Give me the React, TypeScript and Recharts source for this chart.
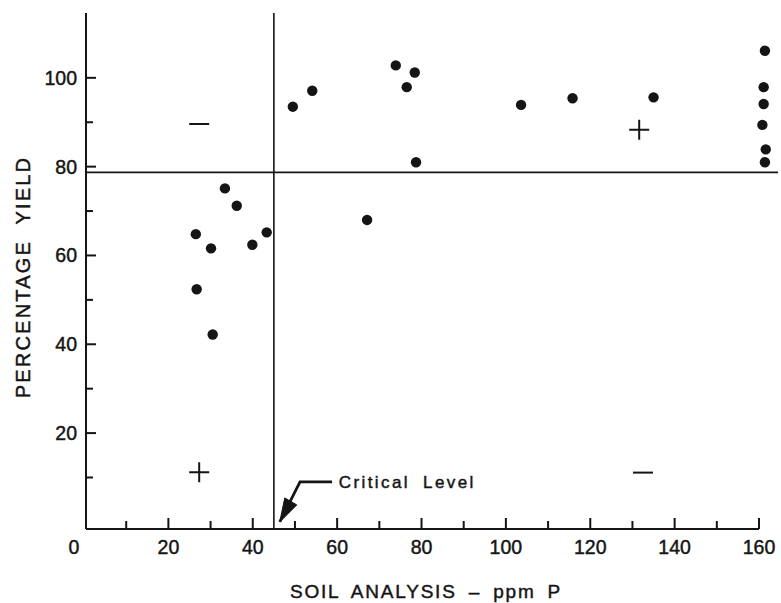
import React from 'react';
import { ScatterChart, Scatter, XAxis, YAxis, ReferenceLine, ReferenceDot, Label } from 'recharts';

const FONT = '"Liberation Sans", Arial, sans-serif';
const INK = '#151515';

// Observed points: soil analysis (ppm P) vs percentage yield
const soilP = [26.5, 26.7, 30.1, 30.5, 33.4, 36.2, 39.9, 43.3, 49.5, 54.1, 67.1, 73.9, 76.5, 78.4, 78.7, 103.6, 115.8, 135.0, 161.4, 161.1, 161.1, 160.8, 161.6, 161.4];
const yieldPct = [64.8, 52.4, 61.6, 42.2, 75.1, 71.2, 62.4, 65.2, 93.5, 97.1, 68.0, 102.8, 97.9, 101.2, 81.0, 93.9, 95.4, 95.6, 106.1, 97.9, 94.1, 89.4, 83.9, 81.0];

const xTicks = [0, 10, 20, 30, 40, 50, 60, 70, 80, 90, 100, 110, 120, 130, 140, 150, 160];
const yTicks = [10, 20, 30, 40, 50, 60, 70, 80, 90, 100];

const criticalP = 45;
const criticalYield = 78.7;

const plusX = [27.3, 131.6];
const plusY = [11.2, 88.3];
const minusX = [27.3, 132.5];
const minusY = [89.6, 11.1];

const arrowX = [58.8, 51.2, 46.4];
const arrowY = [9.0, 9.0, 0];
const criticalLabel = 'Critical Level';
const criticalLabelX = 60.4;
const criticalLabelY = 9.0;

const X_DOMAIN: [number, number] = [0.47, 164.5];
const Y_DOMAIN: [number, number] = [-1.6, 114.6];

const points = soilP.map((x, i) => ({ x, y: yieldPct[i] }));
const plusSigns = plusX.map((x, i) => ({ x, y: plusY[i] }));
const minusSigns = minusX.map((x, i) => ({ x, y: minusY[i] }));
const arrowPath = arrowX.map((x, i) => ({ x, y: arrowY[i] }));

const TEXT_STROKE = 0.45;

const XTick = (props: any) => {
  const { x, y, payload } = props;
  const v = payload.value;
  const major = v % 20 === 0;
  return (
    <g>
      {v !== 0 && <line x1={x} x2={x} y1={y} y2={y - (major ? 11 : 8)} stroke={INK} strokeWidth={2} />}
      {major && (
        <text x={v === 0 ? x - 10 : x} y={y + 25} textAnchor="middle" fontSize={19.5} fontFamily={FONT} fill={INK} stroke={INK} strokeWidth={TEXT_STROKE}>
          {v}
        </text>
      )}
    </g>
  );
};

const YTick = (props: any) => {
  const { x, y, payload } = props;
  const v = payload.value;
  const major = v % 20 === 0;
  return (
    <g>
      <line x1={x} x2={x + (major ? 10 : 7)} y1={y} y2={y} stroke={INK} strokeWidth={2} />
      {major && (
        <text x={x - 9} y={y} dy="0.36em" textAnchor="end" fontSize={19.5} fontFamily={FONT} fill={INK} stroke={INK} strokeWidth={TEXT_STROKE}>
          {v}
        </text>
      )}
    </g>
  );
};

const Dot = (p: any) => <circle cx={p.cx} cy={p.cy} r={5.2} fill={INK} />;
const Plus = (p: any) => (
  <path d={`M${p.cx - 10},${p.cy}h20M${p.cx},${p.cy - 10}v20`} stroke={INK} strokeWidth={2} fill="none" />
);
const Minus = (p: any) => <path d={`M${p.cx - 10},${p.cy}h20`} stroke={INK} strokeWidth={2} fill="none" />;
const Empty = () => <g />;

const ArrowHead = (p: any) => {
  const { cx, cy } = p;
  return <polygon points={`${cx},${cy} ${cx + 17},${cy - 17} ${cx + 5},${cy - 24}`} fill={INK} stroke={INK} strokeWidth={1} />;
};

const CriticalText = (p: any) => (
  <text x={p.cx} y={p.cy} dy="0.36em" fontSize={17} letterSpacing={2.4} wordSpacing={6} fontFamily={FONT} fill={INK} stroke={INK} strokeWidth={TEXT_STROKE}>
    {criticalLabel}
  </text>
);

export default function App() {
  return (
    <div style={{ position: 'absolute', left: 0, top: 0, background: '#fff' }}>
      <ScatterChart width={781} height={603} margin={{ top: 13, right: 3, bottom: 0, left: 0 }}>
        <XAxis
          type="number"
          dataKey="x"
          domain={X_DOMAIN}
          allowDataOverflow
          ticks={xTicks}
          interval={0}
          axisLine={false}
          tickLine={false}
          tickSize={0}
          tickMargin={0}
          height={74}
          tick={<XTick />}
        >
          <Label
            content={() => (
              <text x={426} y={598} textAnchor="middle" fontSize={19} letterSpacing={1.8} wordSpacing={5} fontFamily={FONT} fill={INK} stroke={INK} strokeWidth={TEXT_STROKE}>
                SOIL ANALYSIS – ppm P
              </text>
            )}
          />
        </XAxis>
        <YAxis
          type="number"
          dataKey="y"
          domain={Y_DOMAIN}
          allowDataOverflow
          ticks={yTicks}
          interval={0}
          axisLine={{ stroke: INK, strokeWidth: 2 }}
          tickLine={false}
          tickSize={0}
          tickMargin={0}
          width={86}
          tick={<YTick />}
        >
          <Label
            content={() => (
              <text
                x={30}
                y={277}
                transform="rotate(-90 30 277)"
                textAnchor="middle"
                fontSize={20}
                letterSpacing={2.2}
                wordSpacing={8}
                fontFamily={FONT}
                fill={INK}
                stroke={INK}
                strokeWidth={TEXT_STROKE}
              >
                PERCENTAGE YIELD
              </text>
            )}
          />
        </YAxis>
        <ReferenceLine
          segment={[{ x: X_DOMAIN[0], y: Y_DOMAIN[0] }, { x: 160, y: Y_DOMAIN[0] }]}
          stroke={INK}
          strokeWidth={2}
          ifOverflow="visible"
        />
        <ReferenceLine x={criticalP} stroke={INK} strokeWidth={1.6} />
        <ReferenceLine y={criticalYield} stroke={INK} strokeWidth={1.6} />
        <Scatter data={points} shape={<Dot />} isAnimationActive={false} />
        <Scatter data={plusSigns} shape={<Plus />} isAnimationActive={false} />
        <Scatter data={minusSigns} shape={<Minus />} isAnimationActive={false} />
        <Scatter
          data={arrowPath}
          shape={<Empty />}
          line={{ stroke: INK, strokeWidth: 2.8 }}
          lineType="joint"
          isAnimationActive={false}
        />
        <ReferenceDot x={arrowX[2]} y={arrowY[2]} r={0} ifOverflow="visible" shape={<ArrowHead />} />
        <ReferenceDot x={criticalLabelX} y={criticalLabelY} r={0} ifOverflow="visible" shape={<CriticalText />} />
      </ScatterChart>
    </div>
  );
}
